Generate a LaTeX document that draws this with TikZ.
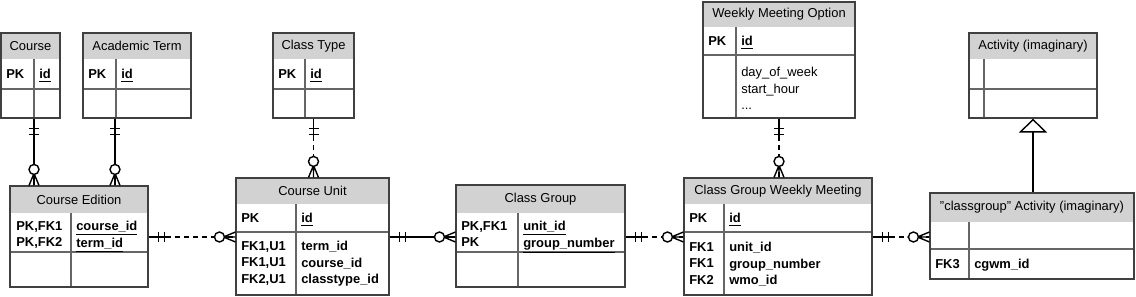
\documentclass[tikz,border=0pt]{standalone}
\usepackage{fontspec}
\setmainfont{Liberation Sans}
\usetikzlibrary{positioning, arrows.meta, fit}
\newcommand{\erfont}{\fontsize{9.2}{11.7}\selectfont}
\tikzset{
    headbox/.style={rectangle, draw=black!70, fill=gray!35, line width=0.7pt, inner sep=0pt},
    title/.style={inner sep=0pt, font=\erfont},
    bodybox/.style={rectangle, fill=white, inner sep=0pt},
    frame/.style={rectangle, draw=black!75, line width=0.8pt, inner sep=0pt},
    rowline/.style={draw=black!60, line width=0.8pt},
    keys/.style={anchor=north west, inner sep=0pt, align=left, font=\erfont\bfseries},
    fields/.style={anchor=north west, inner sep=0pt, align=left, font=\erfont},
    boldfields/.style={fields, font=\erfont\bfseries},
    rel/.style={line width=1pt, black},
    opt/.style={rel, dash pattern=on 3.5pt off 2.8pt},
    isa/.style={rel, -{Triangle[open, length=0.35cm, width=0.7cm]}},
    mandone/.pic={\draw[rel] (0,0) -- (19,0) (10,-5) -- (10,5) (16,-5) -- (16,5);},
    zeromany/.pic={\draw[rel] (0,-5) -- (12,0) -- (0,5) (0,0) -- (22,0); \draw[rel, fill=white] (16,0) circle[radius=5];}
}
% name, left, top, right, bottom, header bottom, row bottom, divider, title
\newcommand{\entity}[9]{%
    \node[headbox, fit={(#2,#3) (#4,#6)}] (#1-h) {};
    \node[title] (#1-t) at (#1-h.center) {#9};
    \node[bodybox, fit={(#2,#6) (#4,#5)}] (#1-b) {};
    \draw[rowline] (#2,#7) -- (#4,#7);
    \draw[rowline] (#8,#6) -- (#8,#5);
    \node[frame, fit={(#2,#3) (#4,#5)}] (#1) {};
}

\begin{document}
\begin{tikzpicture}[x=0.025cm, y=-0.025cm]
    \useasboundingbox (0,0) rectangle (1136,296);

    % Tables
    \entity{course}{1}{33}{60}{118}{59}{89}{34}{Course}
    \entity{term}{83}{33}{191}{118}{59}{89}{116}{Academic Term}
    \entity{ctype}{273}{33}{354}{118}{59}{89}{305}{Class Type}
    \entity{wmo}{703}{2}{855}{118}{27}{55}{736}{Weekly Meeting Option}
    \entity{act}{969}{33}{1097}{118}{59}{89}{984}{Activity (imaginary)}
    \entity{edition}{10}{186}{148}{287}{213}{252}{71}{Course Edition}
    \entity{unit}{236}{178}{389}{295}{204}{232}{296}{Course Unit}
    \entity{group}{456}{185}{625}{287}{213}{252}{518}{Class Group}
    \entity{cgwm}{684}{178}{872}{295}{204}{232}{724}{Class Group Weekly Meeting}
    \entity{cga}{930}{193}{1134}{279}{222}{249}{969}{"classgroup" Activity (imaginary)}

    % Columns
    \node[keys] (course-k) at (6,69.3) {PK};
    \node[boldfields] (course-f) at (39,69.3) {\underline{id}};
    \node[keys] (term-k) at (88,69.3) {PK};
    \node[boldfields] (term-f) at (121,69.3) {\underline{id}};
    \node[keys] (ctype-k) at (278,69.3) {PK};
    \node[boldfields] (ctype-f) at (310,69.3) {\underline{id}};
    \node[keys] (wmo-k) at (708,36.3) {PK};
    \node[boldfields] (wmo-f) at (741,36.3) {\underline{id}};
    \node[fields] (wmo-f2) at (741,67.3) {day\_of\_week\\start\_hour\\...};
    \node[keys] (edition-k) at (16,221.3) {PK,FK1\\PK,FK2};
    \node[boldfields] (edition-f) at (76,221.3) {\underline{course\_id}\\\underline{term\_id}};
    \node[keys] (unit-k) at (241,213.3) {PK};
    \node[boldfields] (unit-f) at (301,213.3) {\underline{id}};
    \node[keys] (unit-k2) at (241,241.3) {FK1,U1\\FK1,U1\\FK2,U1};
    \node[boldfields] (unit-f2) at (301,241.3) {term\_id\\course\_id\\classtype\_id};
    \node[keys] (group-k) at (461,221.3) {PK,FK1\\PK};
    \node[boldfields] (group-f) at (523,221.3) {\underline{unit\_id}\\\underline{group\_number}};
    \node[keys] (cgwm-k) at (689,213.3) {PK};
    \node[boldfields] (cgwm-f) at (729,213.3) {\underline{id}};
    \node[keys] (cgwm-k2) at (689,242.3) {FK1\\FK1\\FK2};
    \node[boldfields] (cgwm-f2) at (729,242.3) {unit\_id\\group\_number\\wmo\_id};
    \node[keys] (cga-k) at (935,259.3) {FK3};
    \node[boldfields] (cga-f) at (974,259.3) {cgwm\_id};

    % Relationship lines
    \coordinate (x-course) at (34,0);
    \coordinate (x-term) at (115,0);
    \coordinate (y-rel) at (0,237);

    \draw[rel] (course.south -| x-course) -- (edition.north -| x-course);
    \pic[rotate=-90] at (course.south -| x-course) {mandone};
    \pic[rotate=90] at (edition.north -| x-course) {zeromany};

    \draw[rel] (term.south -| x-term) -- (edition.north -| x-term);
    \pic[rotate=-90] at (term.south -| x-term) {mandone};
    \pic[rotate=90] at (edition.north -| x-term) {zeromany};

    \draw[opt] (ctype.south) -- (unit.north -| ctype.south);
    \pic[rotate=-90] at (ctype.south) {mandone};
    \pic[rotate=90] at (unit.north -| ctype.south) {zeromany};

    \draw[opt] (wmo.south) -- (cgwm.north -| wmo.south);
    \pic[rotate=-90] at (wmo.south) {mandone};
    \pic[rotate=90] at (cgwm.north -| wmo.south) {zeromany};

    \draw[opt] (edition.east |- y-rel) -- (unit.west |- y-rel);
    \pic at (edition.east |- y-rel) {mandone};
    \pic[rotate=180] at (unit.west |- y-rel) {zeromany};

    \draw[rel] (unit.east |- y-rel) -- (group.west |- y-rel);
    \pic at (unit.east |- y-rel) {mandone};
    \pic[rotate=180] at (group.west |- y-rel) {zeromany};

    \draw[opt] (group.east |- y-rel) -- (cgwm.west |- y-rel);
    \pic at (group.east |- y-rel) {mandone};
    \pic[rotate=180] at (cgwm.west |- y-rel) {zeromany};

    \draw[opt] (cgwm.east |- y-rel) -- (cga.west |- y-rel);
    \pic at (cgwm.east |- y-rel) {mandone};
    \pic[rotate=180] at (cga.west |- y-rel) {zeromany};

    % Inheritance
    \draw[isa] (cga.north -| act.south) -- (act.south);
\end{tikzpicture}
\end{document}
